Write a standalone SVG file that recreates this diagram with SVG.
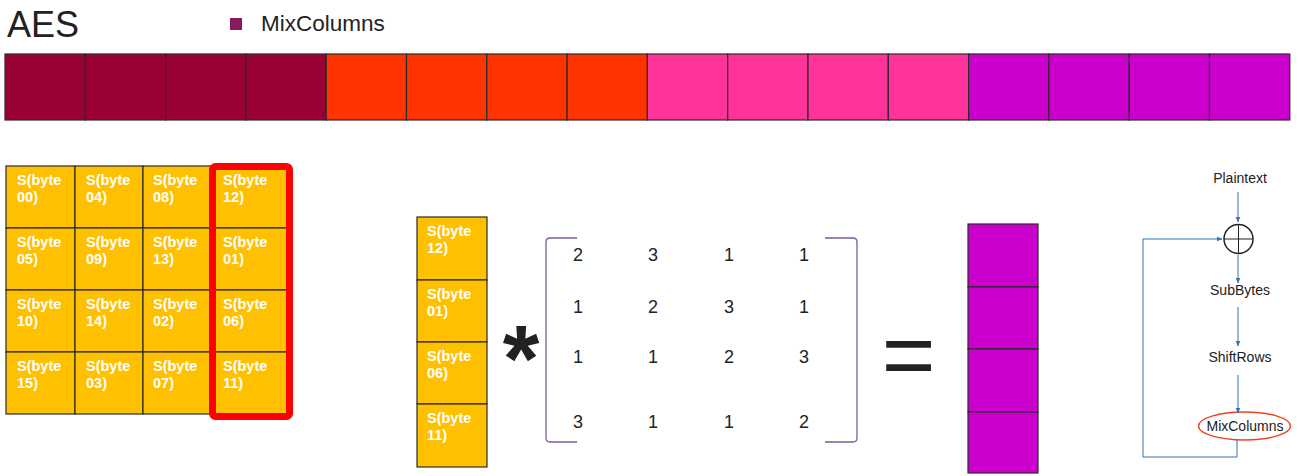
<svg xmlns="http://www.w3.org/2000/svg" width="1300" height="476" viewBox="0 0 1300 476">
<defs>
<style>
.t{font-family:"Liberation Sans",Arial,sans-serif;fill:#222}
.cell{stroke:#2a2a2a;stroke-width:1.2}
.y{fill:#ffc000}
.bw{font-family:"Liberation Sans",Arial,sans-serif;font-weight:bold;font-size:14.5px;fill:#fff}
.num{font-family:"Liberation Sans",Arial,sans-serif;font-size:18px;fill:#222;text-anchor:middle}
.fl{font-family:"Liberation Sans",Arial,sans-serif;font-size:14px;fill:#222;text-anchor:middle}
.ar{stroke:#2f75b5;stroke-width:1;fill:none}
.br{stroke:#7b5c9c;stroke-width:1.3;fill:none}
</style>
<marker id="ah" viewBox="0 0 10 10" refX="9" refY="5" markerWidth="6" markerHeight="6" orient="auto">
<path d="M0,1 L10,5 L0,9 z" fill="#2f75b5"/>
</marker>
</defs>
<rect width="1300" height="476" fill="#fff"/>

<g id="title">
<text class="t" x="7" y="37" font-size="36">AES</text>
</g>
<g id="legend">
<rect x="230" y="18" width="12" height="12" fill="#8b1a5c"/>
<text class="t" x="261" y="31" font-size="22.5">MixColumns</text>
</g>

<g id="state-bar">
<rect x="5" y="54" width="80.3" height="66" fill="#990033" class="cell"/>
<rect x="85.3" y="54" width="80.3" height="66" fill="#990033" class="cell"/>
<rect x="165.6" y="54" width="80.3" height="66" fill="#990033" class="cell"/>
<rect x="245.9" y="54" width="80.3" height="66" fill="#990033" class="cell"/>
<rect x="326.2" y="54" width="80.3" height="66" fill="#ff3300" class="cell"/>
<rect x="406.5" y="54" width="80.3" height="66" fill="#ff3300" class="cell"/>
<rect x="486.8" y="54" width="80.3" height="66" fill="#ff3300" class="cell"/>
<rect x="567.1" y="54" width="80.3" height="66" fill="#ff3300" class="cell"/>
<rect x="647.4" y="54" width="80.3" height="66" fill="#ff3399" class="cell"/>
<rect x="727.7" y="54" width="80.3" height="66" fill="#ff3399" class="cell"/>
<rect x="808" y="54" width="80.3" height="66" fill="#ff3399" class="cell"/>
<rect x="888.3" y="54" width="80.3" height="66" fill="#ff3399" class="cell"/>
<rect x="968.6" y="54" width="80.3" height="66" fill="#cc00cc" class="cell"/>
<rect x="1048.9" y="54" width="80.3" height="66" fill="#cc00cc" class="cell"/>
<rect x="1129.2" y="54" width="80.3" height="66" fill="#cc00cc" class="cell"/>
<rect x="1209.5" y="54" width="80.3" height="66" fill="#cc00cc" class="cell"/>
</g>

<g id="sbox-grid">
<rect class="cell y" x="6" y="166" width="69" height="62"/>
<rect class="cell y" x="75" y="166" width="68" height="62"/>
<rect class="cell y" x="143" y="166" width="68" height="62"/>
<rect class="cell y" x="211" y="166" width="76" height="62"/>
<rect class="cell y" x="6" y="228" width="69" height="62"/>
<rect class="cell y" x="75" y="228" width="68" height="62"/>
<rect class="cell y" x="143" y="228" width="68" height="62"/>
<rect class="cell y" x="211" y="228" width="76" height="62"/>
<rect class="cell y" x="6" y="290" width="69" height="62"/>
<rect class="cell y" x="75" y="290" width="68" height="62"/>
<rect class="cell y" x="143" y="290" width="68" height="62"/>
<rect class="cell y" x="211" y="290" width="76" height="62"/>
<rect class="cell y" x="6" y="352" width="69" height="62"/>
<rect class="cell y" x="75" y="352" width="68" height="62"/>
<rect class="cell y" x="143" y="352" width="68" height="62"/>
<rect class="cell y" x="211" y="352" width="76" height="62"/>
<text class="bw" x="17" y="185">S(byte<tspan x="17" dy="17">00)</tspan></text>
<text class="bw" x="86" y="185">S(byte<tspan x="86" dy="17">04)</tspan></text>
<text class="bw" x="153" y="185">S(byte<tspan x="153" dy="17">08)</tspan></text>
<text class="bw" x="223" y="185">S(byte<tspan x="223" dy="17">12)</tspan></text>
<text class="bw" x="17" y="247">S(byte<tspan x="17" dy="17">05)</tspan></text>
<text class="bw" x="86" y="247">S(byte<tspan x="86" dy="17">09)</tspan></text>
<text class="bw" x="153" y="247">S(byte<tspan x="153" dy="17">13)</tspan></text>
<text class="bw" x="223" y="247">S(byte<tspan x="223" dy="17">01)</tspan></text>
<text class="bw" x="17" y="309">S(byte<tspan x="17" dy="17">10)</tspan></text>
<text class="bw" x="86" y="309">S(byte<tspan x="86" dy="17">14)</tspan></text>
<text class="bw" x="153" y="309">S(byte<tspan x="153" dy="17">02)</tspan></text>
<text class="bw" x="223" y="309">S(byte<tspan x="223" dy="17">06)</tspan></text>
<text class="bw" x="17" y="371">S(byte<tspan x="17" dy="17">15)</tspan></text>
<text class="bw" x="86" y="371">S(byte<tspan x="86" dy="17">03)</tspan></text>
<text class="bw" x="153" y="371">S(byte<tspan x="153" dy="17">07)</tspan></text>
<text class="bw" x="223" y="371">S(byte<tspan x="223" dy="17">11)</tspan></text>
<rect x="212.5" y="166.5" width="77" height="250" rx="3" fill="none" stroke="#ff0000" stroke-width="7"/>
</g>

<g id="column-vector">
<rect class="cell y" x="417" y="217" width="70" height="63"/>
<rect class="cell y" x="417" y="280" width="70" height="62"/>
<rect class="cell y" x="417" y="342" width="70" height="62"/>
<rect class="cell y" x="417" y="404" width="70" height="63"/>
<text class="bw" x="427" y="236">S(byte<tspan x="427" dy="17">12)</tspan></text>
<text class="bw" x="427" y="299">S(byte<tspan x="427" dy="17">01)</tspan></text>
<text class="bw" x="427" y="361">S(byte<tspan x="427" dy="17">06)</tspan></text>
<text class="bw" x="427" y="423">S(byte<tspan x="427" dy="17">11)</tspan></text>
</g>

<g id="times">
<text class="t" x="521" y="391" font-size="94" font-weight="bold" text-anchor="middle">*</text>
</g>

<g id="matrix">
<path class="br" d="M577,238 L550,238 Q546,238 546,242 L546,438 Q546,442 550,442 L577,442"/>
<path class="br" d="M825,238 L853,238 Q857,238 857,242 L857,438 Q857,442 853,442 L825,442"/>
<text class="num" x="578" y="261">2</text>
<text class="num" x="653" y="261">3</text>
<text class="num" x="729" y="261">1</text>
<text class="num" x="804" y="261">1</text>
<text class="num" x="578" y="313">1</text>
<text class="num" x="653" y="313">2</text>
<text class="num" x="729" y="313">3</text>
<text class="num" x="804" y="313">1</text>
<text class="num" x="578" y="363">1</text>
<text class="num" x="653" y="363">1</text>
<text class="num" x="729" y="363">2</text>
<text class="num" x="804" y="363">3</text>
<text class="num" x="578" y="428">3</text>
<text class="num" x="653" y="428">1</text>
<text class="num" x="729" y="428">1</text>
<text class="num" x="804" y="428">2</text>
</g>

<g id="equals">
<text class="t" x="908.5" y="387" font-size="92" text-anchor="middle" fill="#1a1a1a">=</text>
</g>

<g id="result-column">
<rect class="cell" fill="#cc00cc" x="968" y="224" width="70" height="63"/>
<rect class="cell" fill="#cc00cc" x="968" y="287" width="70" height="62"/>
<rect class="cell" fill="#cc00cc" x="968" y="349" width="70" height="63"/>
<rect class="cell" fill="#cc00cc" x="968" y="412" width="70" height="61"/>
</g>

<g id="flow-plaintext"><text class="fl" x="1240" y="183">Plaintext</text></g>
<g id="flow-xor">
<circle cx="1238.5" cy="239" r="14.5" fill="none" stroke="#222" stroke-width="1.5"/>
<line x1="1224" y1="239" x2="1253" y2="239" stroke="#222" stroke-width="1"/>
<line x1="1238.5" y1="224.5" x2="1238.5" y2="253.5" stroke="#222" stroke-width="1"/>
</g>
<g id="flow-subbytes"><text class="fl" x="1240" y="295">SubBytes</text></g>
<g id="flow-shiftrows"><text class="fl" x="1240" y="362">ShiftRows</text></g>
<g id="flow-mixcolumns">
<ellipse cx="1244.5" cy="426" rx="46" ry="14" fill="none" stroke="#ee4422" stroke-width="1.5"/>
<text class="fl" x="1245" y="431">MixColumns</text>
</g>

<g id="connectors">
<line class="ar" x1="1238" y1="192" x2="1238" y2="222" marker-end="url(#ah)"/>
<line class="ar" x1="1238" y1="255" x2="1238" y2="283" marker-end="url(#ah)"/>
<line class="ar" x1="1238" y1="307" x2="1238" y2="346" marker-end="url(#ah)"/>
<line class="ar" x1="1238" y1="375" x2="1238" y2="413" marker-end="url(#ah)"/>
<polyline class="ar" points="1237,440 1237,457 1143,457 1143,239 1222,239" marker-end="url(#ah)"/>
</g>
</svg>
